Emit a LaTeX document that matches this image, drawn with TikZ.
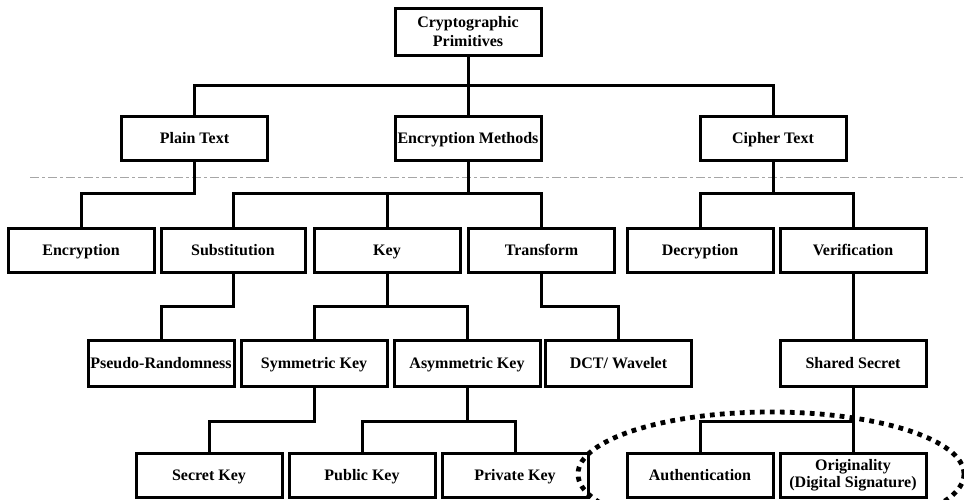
\documentclass[tikz,border=0pt]{standalone}
\usepackage{fontspec}
\setmainfont{Liberation Serif}
\begin{document}
\begin{tikzpicture}[x=1pt,y=-1pt,
  box/.style={draw, line width=3pt, minimum width=146pt, minimum height=44pt,
    inner sep=0.5pt, align=center, text height=12pt, text depth=1.3pt,
    font=\fontsize{16}{17.5}\selectfont\bfseries},
  twoline/.style={text height=, text depth=},
  link/.style={line width=3pt},
  separator/.style={draw=gray!70, line width=0.8pt, dash pattern=on 9pt off 3pt on 3pt off 3pt},
  ring/.style={line width=4.8pt, dash pattern=on 4.8pt off 5.2pt}]
\useasboundingbox (0,0) rectangle (964,499);
\clip (0,0) rectangle (964,499);

% separator between the first two levels
\coordinate (sepL) at (30,177);
\coordinate (sepR) at (964,177);
\draw[separator] (sepL) -- (sepR);

% root
\node[box, twoline, minimum height=47pt] (root) at (468,32) {Cryptographic\\[1.5pt]Primitives};

% level 1
\node[box] (plain)  at (194.5,138) {Plain Text};
\node[box] (encm)   at (468,138)   {Encryption Methods};
\node[box] (cipher) at (773,138)   {Cipher Text};

% level 2
\node[box] (encr)   at (81,250)    {Encryption};
\node[box, minimum width=144pt] (subst)  at (233,250)   {Substitution};
\node[box] (key)    at (387,250)   {Key};
\node[box] (trans)  at (541.5,250) {Transform};
\node[box] (decr)   at (700,250)   {Decryption};
\node[box] (verif)  at (853,250)   {Verification};

% level 3
\node[box, minimum height=46pt] (pseudo) at (161,363)   {Pseudo-Randomness};
\node[box, minimum height=46pt] (sym)    at (314,363)   {Symmetric Key};
\node[box, minimum height=46pt] (asym)   at (467,363)   {Asymmetric Key};
\node[box, minimum height=46pt] (dct)    at (618.5,363) {DCT/ Wavelet};
\node[box, minimum height=46pt] (shared) at (853,363)   {Shared Secret};

% level 4
\node[box] (secret) at (209,475) {Secret Key};
\node[box] (public) at (362,475) {Public Key};
\node[box] (private)at (515,475) {Private Key};
\node[box] (auth)   at (700,475) {Authentication};
\node[box, twoline] (orig) at (853,475) {Originality\\[-1pt](Digital Signature)};

% connectors: root
\draw[link] (root.south) -- (root.south |- 0,85);
\draw[link] (plain.north) |- (cipher.north |- 0,85) -- (cipher.north);
\draw[link] (encm.north) -- (encm.north |- 0,85);

% connectors: level 1 -> level 2
\draw[link] (plain.south) -- (plain.south |- 0,193) -| (encr.north);
\draw[link] (encm.south) -- (encm.south |- 0,193);
\draw[link] (subst.north) |- (trans.north |- 0,193) -- (trans.north);
\draw[link] (key.north) -- (key.north |- 0,193);
\draw[link] (cipher.south) -- (cipher.south |- 0,193);
\draw[link] (decr.north) |- (verif.north |- 0,193) -- (verif.north);

% connectors: level 2 -> level 3
\draw[link] (subst.south) -- (subst.south |- 0,306) -| (pseudo.north);
\draw[link] (key.south) -- (key.south |- 0,306);
\draw[link] (sym.north) |- (asym.north |- 0,306) -- (asym.north);
\draw[link] (trans.south) -- (trans.south |- 0,306) -| (dct.north);
\draw[link] (verif.south) -- (shared.north);

% connectors: level 3 -> level 4
\draw[link] (sym.south) -- (sym.south |- 0,421) -| (secret.north);
\draw[link] (asym.south) -- (asym.south |- 0,421);
\draw[link] (public.north) |- (private.north |- 0,421) -- (private.north);
\draw[link] (shared.south) -- (shared.south |- 0,421);
\draw[link] (auth.north) |- (orig.north |- 0,421) -- (orig.north);

% dotted ring around the verification outcomes
\coordinate (ringc) at (771,474);
\draw[ring] (ringc) ellipse [x radius=193, y radius=62];
\end{tikzpicture}
\end{document}
